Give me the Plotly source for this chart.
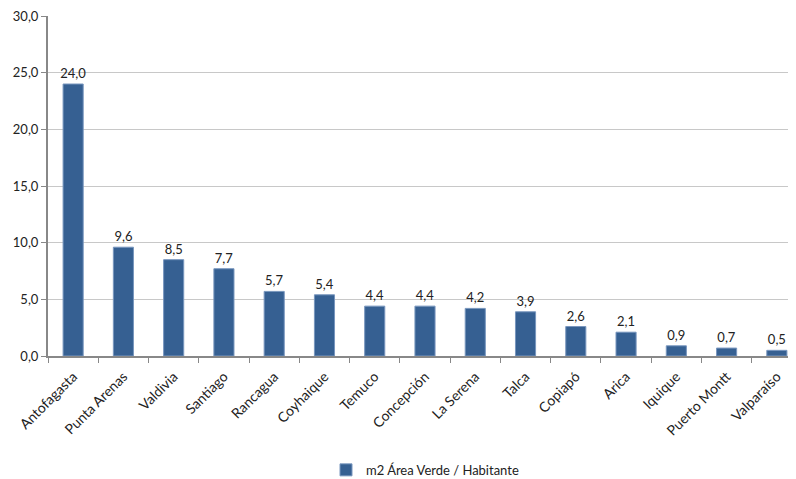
import plotly.graph_objects as go

ciudades = ["Antofagasta", "Punta Arenas", "Valdivia", "Santiago", "Rancagua",
            "Coyhaique", "Temuco", "Concepción", "La Serena", "Talca",
            "Copiapó", "Arica", "Iquique", "Puerto Montt", "Valparaíso"]
area_verde = [24.0, 9.6, 8.5, 7.7, 5.7, 5.4, 4.4, 4.4, 4.2, 3.9, 2.6, 2.1, 0.9, 0.7, 0.5]
serie = "m2 Área Verde / Habitante"

fig = go.Figure()
fig.add_trace(go.Bar(
    x=ciudades, y=area_verde, name=serie,
    marker=dict(color="rgb(54,96,146)", line=dict(color="rgb(120,150,190)", width=1)),
    texttemplate="%{y:.1f}", textposition="outside", cliponaxis=False,
    textfont=dict(size=13, color="#222"),
))

# page is drawn with an 8px body offset, margins compensate for it
fig.update_layout(
    width=796, height=479,
    margin=dict(l=40, r=2, t=8, b=116),
    plot_bgcolor="white", paper_bgcolor="white",
    separators=",.",
    font=dict(family="Lato", size=13, color="#222"),
    bargap=0.6,
    uniformtext=dict(minsize=13, mode="show"),
    showlegend=True,
    legend=dict(orientation="h", x=0.5, xanchor="center", y=-0.335, yanchor="middle",
                font=dict(size=13), itemwidth=30),
)
fig.update_yaxes(range=[0, 30], dtick=5, tickformat=".1f",
                 showgrid=True, gridcolor="#c8c8c8", gridwidth=1,
                 showline=True, linecolor="#888", linewidth=2,
                 ticks="outside", ticklen=5, tickcolor="#888", zeroline=False,
                 ticklabeloverflow="allow", automargin=False)
fig.update_xaxes(tickangle=-45, showline=True, linecolor="#888", linewidth=2,
                 ticks="outside", ticklen=5, tickcolor="#888", tickson="boundaries",
                 tickfont=dict(size=14), ticklabelstandoff=5, automargin=False)

fig.write_html("out.html")
